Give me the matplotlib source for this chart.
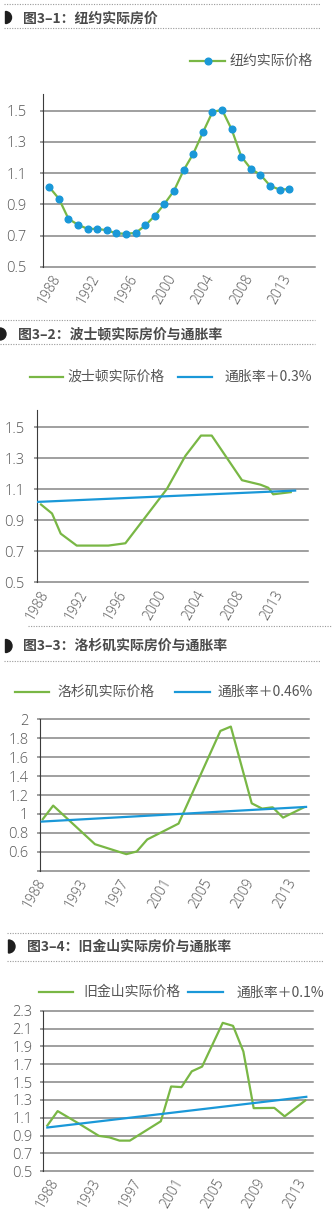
import matplotlib
matplotlib.use('Agg')
import matplotlib.pyplot as plt
from matplotlib.patches import Wedge
from matplotlib.transforms import blended_transform_factory, offset_copy

plt.rcParams['font.family'] = ['Noto Sans CJK SC', 'DejaVu Sans']

# ---------------- data ----------------
# Figure 3-1: New York
ny_title = '图3–1：纽约实际房价'
ny_name = '纽约实际价格'
ny_x = list(range(26))
ny_y = [1.011, 0.937, 0.808, 0.770, 0.744, 0.744, 0.735, 0.715, 0.713, 0.718,
        0.766, 0.828, 0.904, 0.989, 1.120, 1.225, 1.361, 1.492, 1.506, 1.380,
        1.207, 1.128, 1.090, 1.020, 0.995, 0.999]
ny_tick_idx = [0, 4, 8, 12, 16, 20, 24]
ny_tick_lab = ['1988', '1992', '1996', '2000', '2004', '2008', '2013']
ny_yticks = [0.5, 0.7, 0.9, 1.1, 1.3, 1.5]
ny_ylabels = ['0.5', '0.7', '0.9', '1.1', '1.3', '1.5']

# Figure 3-2: Boston
bos_title = '图3–2：波士顿实际房价与通胀率'
bos_name = '波士顿实际价格'
bos_x = [0, 1.13, 2.02, 3.66, 6.9, 8.65, 12.9, 14.8, 16.4, 17.5, 20.6, 22.5, 23.3, 23.8, 25.6]
bos_y = [1.0, 0.942, 0.812, 0.735, 0.735, 0.75, 1.10, 1.314, 1.445, 1.445, 1.157, 1.128, 1.108, 1.066, 1.08]
bos_infl_name = '通胀率＋0.3%'
bos_infl_x = [-0.3, 26.05]
bos_infl_y = [1.017, 1.09]
bos_tick_idx = [0, 4, 8, 12, 16, 20, 24]
bos_tick_lab = ['1988', '1992', '1996', '2000', '2004', '2008', '2013']
bos_yticks = [0.5, 0.7, 0.9, 1.1, 1.3, 1.5]
bos_ylabels = ['0.5', '0.7', '0.9', '1.1', '1.3', '1.5']

# Figure 3-3: Los Angeles
la_title = '图3–3：洛杉矶实际房价与通胀率'
la_name = '洛杉矶实际价格'
la_x = [0, 1, 5, 8, 9, 10, 13, 17, 18, 20, 21, 22, 23, 25]
la_y = [0.944, 1.088, 0.68, 0.575, 0.603, 0.73, 0.898, 1.877, 1.923, 1.112, 1.056, 1.07, 0.961, 1.07]
la_infl_name = '通胀率＋0.46%'
la_infl_x = [-0.1, 25.2]
la_infl_y = [0.919, 1.074]
la_tick_idx = [0, 4, 8, 12, 16, 20, 24]
la_tick_lab = ['1988', '1993', '1997', '2001', '2005', '2009', '2013']
la_yticks = [0.4, 0.6, 0.8, 1.0, 1.2, 1.4, 1.6, 1.8, 2.0]
la_ylabels = ['', '0.6', '0.8', '1', '1.2', '1.4', '1.6', '1.8', '2']

# Figure 3-4: San Francisco
sf_title = '图3–4：旧金山实际房价与通胀率'
sf_name = '旧金山实际价格'
sf_x = [0, 1, 3, 5, 6, 7, 8, 11, 12, 13, 14, 15, 17, 18, 19, 20, 22, 23, 25]
sf_y = [1.012, 1.174, 1.038, 0.896, 0.88, 0.843, 0.843, 1.06, 1.45, 1.443, 1.62, 1.673,
        2.164, 2.13, 1.843, 1.207, 1.21, 1.115, 1.293]
sf_infl_name = '通胀率＋0.1%'
sf_infl_x = [0, 25.1]
sf_infl_y = [0.99, 1.334]
sf_tick_idx = [0, 4, 8, 12, 16, 20, 24]
sf_tick_lab = ['1988', '1993', '1997', '2001', '2005', '2009', '2013']
sf_yticks = [0.5, 0.7, 0.9, 1.1, 1.3, 1.5, 1.7, 1.9, 2.1, 2.3]
sf_ylabels = ['0.5', '0.7', '0.9', '1.1', '1.3', '1.5', '1.7', '1.9', '2.1', '2.3']

# ---------------- style ----------------
GREEN = '#79b745'
BLUE = '#1a98d8'
GRID = '#858585'
TXT = '#555555'
TITLE = '#4a4a4a'
NUMFONT = ['Open Sans', 'DejaVu Sans']

W, H = 332, 1226
fig = plt.figure(figsize=(W / 100, H / 100), dpi=100)


def px_axes(L, R, T, B, **kw):
    return fig.add_axes([L / W, 1 - B / H, (R - L) / W, (B - T) / H], **kw)


def panel(rect, xlim, ylim, yticks, ylabels, ypad, tick_idx, tick_lab, xdx, xdy):
    ax = px_axes(*rect)
    ax.set_xlim(*xlim)
    ax.set_ylim(*ylim)
    for s in ['top', 'right', 'bottom']:
        ax.spines[s].set_visible(False)
    ax.spines['left'].set_color('#3c3c3c')
    ax.spines['left'].set_linewidth(0.8)
    ax.set_yticks(yticks)
    ax.set_yticklabels(ylabels, family=NUMFONT, fontweight='light')
    ax.tick_params(axis='y', length=2.5, width=1.1, color=GRID, pad=ypad,
                   labelsize=10.5, labelcolor=TXT)
    ax.set_xticks([])
    ax.grid(axis='y', color=GRID, lw=1.1)
    ax.set_axisbelow(True)
    for gl in ax.get_ygridlines():
        gl.set_clip_on(False)
    trans = blended_transform_factory(ax.transData, ax.transAxes)
    off = offset_copy(trans, fig=fig, x=xdx, y=-xdy, units='dots')
    for i, lab in zip(tick_idx, tick_lab):
        ax.text(i, 0, lab, transform=off, rotation=60, ha='right', va='top',
                rotation_mode='anchor', fontsize=10, color=TXT,
                family=NUMFONT, fontweight='light')
    return ax


# Panel 1
ax1 = panel((43.3, 315, 94, 267), (-0.625, 27.68), (0.5, 1.607), ny_yticks, ny_ylabels,
            9.4, ny_tick_idx, ny_tick_lab, 2, 5)
ax1.plot(ny_x, ny_y, color=GREEN, lw=1.6, marker='o', ms=4.8, mfc=BLUE, mec=BLUE, zorder=3)

# Panel 2
ax2 = panel((37.3, 308.3, 410, 582), (-0.38, 27.4), (0.5, 1.61), bos_yticks, bos_ylabels,
            6.7, bos_tick_idx, bos_tick_lab, -2, 6)
ax2.plot(bos_x, bos_y, color=GREEN, lw=1.6, zorder=3)
ax2.plot(bos_infl_x, bos_infl_y, color=BLUE, lw=1.6, zorder=3)

# Panel 3
ax3 = panel((40, 309.3, 719.3, 870.7), (-0.26, 25.51), (0.4, 2.0), la_yticks, la_ylabels,
            5.8, la_tick_idx, la_tick_lab, -7, 5)
ax3.plot(la_x, la_y, color=GREEN, lw=1.6, zorder=3)
ax3.plot(la_infl_x, la_infl_y, color=BLUE, lw=1.6, zorder=3)

# Panel 4
ax4 = panel((43.3, 312.7, 1010.7, 1171.2), (-0.39, 25.72), (0.5, 2.3), sf_yticks, sf_ylabels,
            5.3, sf_tick_idx, sf_tick_lab, 2, 5)
ax4.plot(sf_x, sf_y, color=GREEN, lw=1.6, zorder=3)
ax4.plot(sf_infl_x, sf_infl_y, color=BLUE, lw=1.6, zorder=3)

# ---------------- decorations (pixel overlay) ----------------
ov = fig.add_axes([0, 0, 1, 1], zorder=5)
ov.set_xlim(0, W)
ov.set_ylim(H, 0)
ov.axis('off')
ov.patch.set_alpha(0)

dots = [(4, 320, 4), (4, 320, 28.3), (0, 315, 320), (0, 315, 344), (28, 332, 626),
        (4, 320, 660.7), (7, 323, 932.7), (7, 323, 960.7)]
for x0, x1, y in dots:
    ov.plot([x0, x1], [y, y], color='#9a9a9a', lw=0.8, ls=(0, (1, 1.3)))

for (cx, cy, r) in [(5.5, 17.5, 6), (0, 334, 6), (5.5, 646, 6.5), (8.5, 946.5, 6.5)]:
    ov.add_patch(Wedge((cx, cy), r, -90, 90, color='#1e1e1e'))

for (x, y, t) in [(23.3, 18.5, ny_title), (18.3, 334, bos_title),
                  (23.3, 646, la_title), (26.7, 947, sf_title)]:
    ov.text(x, y, t, ha='left', va='center', fontsize=10, fontweight='bold', color=TITLE)

# legends
ov.plot([190, 225], [61, 61], color=GREEN, lw=1.6)
ov.plot([207.5], [61], 'o', ms=4.8, color=BLUE)
ov.text(230, 61, ny_name, ha='left', va='center', fontsize=10, color=TXT)

for (g0, g1, gt, b0, b1, bt, y, gname, bname) in [
        (30, 63, 67, 178, 212, 225, 377, bos_name, bos_infl_name),
        (15, 49, 58, 175, 210, 218, 692, la_name, la_infl_name),
        (39, 73, 83, 188, 223, 237, 992.3, sf_name, sf_infl_name)]:
    ov.plot([g0, g1], [y, y], color=GREEN, lw=1.6)
    ov.text(gt, y, gname, ha='left', va='center', fontsize=10, color=TXT)
    ov.plot([b0, b1], [y, y], color=BLUE, lw=1.6)
    ov.text(bt, y, bname, ha='left', va='center', fontsize=10, color=TXT)

fig.savefig('out.png', dpi=100)
